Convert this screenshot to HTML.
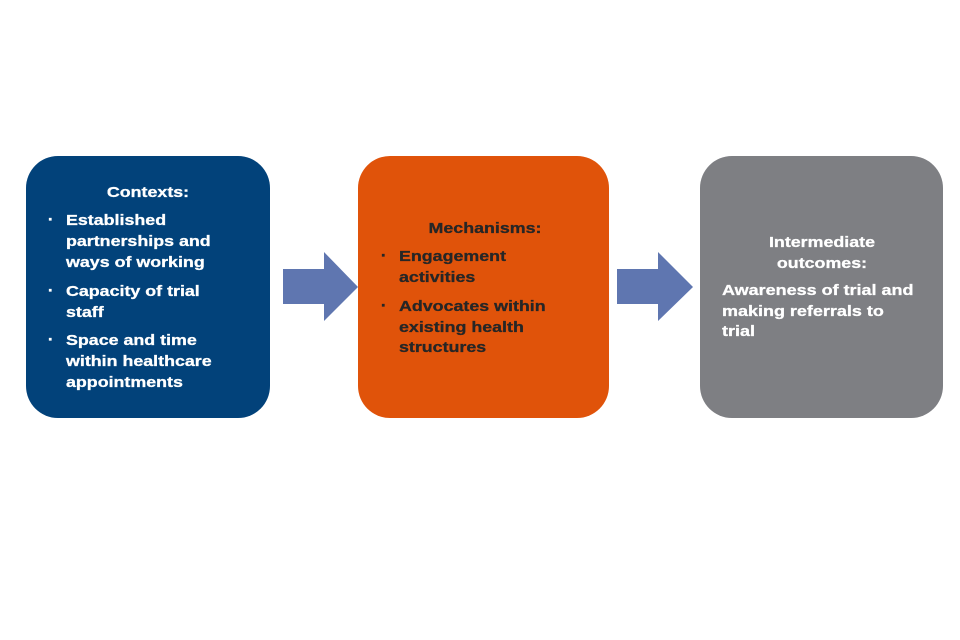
<!DOCTYPE html>
<html>
<head>
<meta charset="utf-8">
<style>
  html, body { margin: 0; padding: 0; background: #ffffff; }
  svg { display: block; }
  text { font-family: "Liberation Sans", Arial, sans-serif; font-weight: bold; font-size: 15px; }
</style>
</head>
<body>
<svg width="960" height="640" viewBox="0 0 960 640" xmlns="http://www.w3.org/2000/svg">
  <rect x="0" y="0" width="960" height="640" fill="#ffffff"/>

  <!-- Boxes -->
  <rect x="26" y="156" width="244" height="262" rx="32" ry="32" fill="#02427a"/>
  <rect x="358" y="156" width="251" height="262" rx="32" ry="32" fill="#e0530a"/>
  <rect x="700" y="156" width="243" height="262" rx="32" ry="32" fill="#7e7f83"/>

  <!-- Arrows -->
  <polygon points="283,269 324,269 324,252 358,287 324,321 324,304 283,304" fill="#5f76b0"/>
  <polygon points="617,269 658,269 658,252 693,287 658,321 658,304 617,304" fill="#5f76b0"/>

  <!-- Contexts box text -->
  <g fill="#ffffff" stroke="#ffffff" stroke-width="0.3">
    <text transform="translate(148,197) scale(1.19,1)" text-anchor="middle">Contexts:</text>
    <rect x="49" y="218" width="2.5" height="2.5"/>
    <text transform="translate(66,225) scale(1.19,1)">Established</text>
    <text transform="translate(66,246) scale(1.19,1)">partnerships and</text>
    <text transform="translate(66,267) scale(1.19,1)">ways of working</text>
    <rect x="49" y="289" width="2.5" height="2.5"/>
    <text transform="translate(66,296) scale(1.19,1)">Capacity of trial</text>
    <text transform="translate(66,317) scale(1.19,1)">staff</text>
    <rect x="49" y="338" width="2.5" height="2.5"/>
    <text transform="translate(66,345) scale(1.19,1)">Space and time</text>
    <text transform="translate(66,366) scale(1.19,1)">within healthcare</text>
    <text transform="translate(66,387) scale(1.19,1)">appointments</text>
  </g>

  <!-- Mechanisms box text -->
  <g fill="#262626" stroke="#262626" stroke-width="0.3">
    <text transform="translate(485,233) scale(1.19,1)" text-anchor="middle">Mechanisms:</text>
    <rect x="382" y="254" width="2.5" height="2.5"/>
    <text transform="translate(399,261) scale(1.19,1)">Engagement</text>
    <text transform="translate(399,282) scale(1.19,1)">activities</text>
    <rect x="382" y="304" width="2.5" height="2.5"/>
    <text transform="translate(399,311) scale(1.19,1)">Advocates within</text>
    <text transform="translate(399,332) scale(1.19,1)">existing health</text>
    <text transform="translate(399,352) scale(1.19,1)">structures</text>
  </g>

  <!-- Outcomes box text -->
  <g fill="#ffffff" stroke="#ffffff" stroke-width="0.3">
    <text transform="translate(822,247) scale(1.19,1)" text-anchor="middle">Intermediate</text>
    <text transform="translate(822,268) scale(1.19,1)" text-anchor="middle">outcomes:</text>
    <text transform="translate(722,295) scale(1.2,1)">Awareness of trial and</text>
    <text transform="translate(722,316) scale(1.2,1)">making referrals to</text>
    <text transform="translate(722,336) scale(1.2,1)">trial</text>
  </g>
</svg>
</body>
</html>
